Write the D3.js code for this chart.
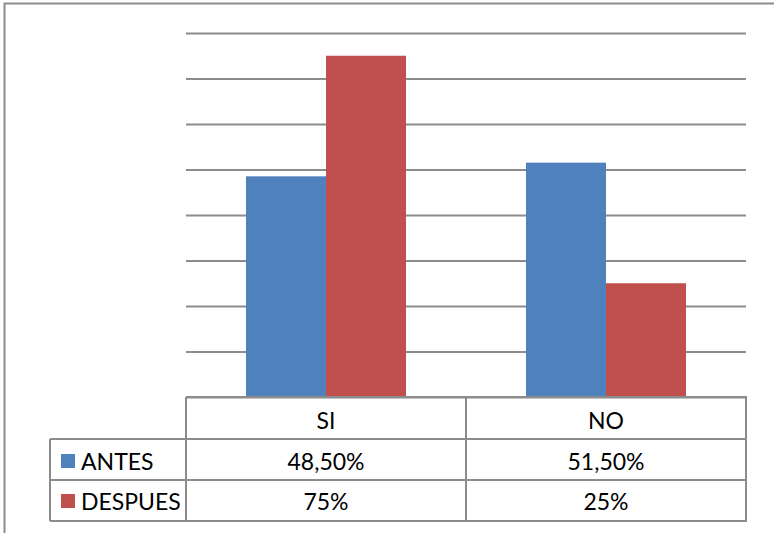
<!DOCTYPE html>
<html>
<head>
<meta charset="utf-8">
<script src="https://cdn.jsdelivr.net/npm/d3@7"></script>
<style>
html,body{margin:0;padding:0;background:#fff;}
svg{display:block;}
text{font-family:Lato,"Open Sans",sans-serif;fill:#000;}
</style>
</head>
<body>
<svg id="chart" width="774" height="533"></svg>
<script>
const categories = ["SI", "NO"];
const seriesNames = ["ANTES", "DESPUES"];
const antes = [0.485, 0.515];
const despues = [0.75, 0.25];
const antesLabels = ["48,50%", "51,50%"];
const despuesLabels = ["75%", "25%"];
const seriesColors = ["#4F81BD", "#C0504D"];
const yTicks = [0, 0.1, 0.2, 0.3, 0.4, 0.5, 0.6, 0.7, 0.8];

const svg = d3.select("#chart");
const gridColor = "#8c8c8c";

// outer frame
svg.append("rect")
  .attr("x", 4.5).attr("y", 3.5)
  .attr("width", 800).attr("height", 600)
  .attr("fill", "none").attr("stroke", gridColor).attr("stroke-width", 2);

const plotLeft = 186, plotRight = 746, plotTop = 33, plotBottom = 397;
const x = d3.scaleBand().domain(categories).range([plotLeft, plotRight]).paddingInner(0).paddingOuter(0);
const xs = d3.scaleBand().domain(seriesNames).range([0, x.bandwidth()]).paddingInner(0).paddingOuter(0.75);
const y = d3.scaleLinear().domain([0, 0.8]).range([plotBottom, plotTop]);

// gridlines
const yAxis = d3.axisLeft(y).tickValues(yTicks).tickSize(-(plotRight - plotLeft)).tickFormat("");
const ga = svg.append("g").attr("transform", `translate(${plotLeft},0)`).call(yAxis);
ga.select(".domain").remove();
ga.selectAll(".tick line").attr("stroke", gridColor).attr("stroke-width", 2);

// bars
const data = categories.map((c, i) => ({cat: c, vals: [antes[i], despues[i]]}));
const groups = svg.append("g").selectAll("g").data(data).join("g")
  .attr("transform", d => `translate(${x(d.cat)},0)`);
groups.selectAll("rect").data(d => d.vals.map((v, j) => ({s: seriesNames[j], v, j})))
  .join("rect")
  .attr("x", d => xs(d.s))
  .attr("width", xs.bandwidth())
  .attr("y", d => y(d.v))
  .attr("height", d => y(0) - y(d.v))
  .attr("fill", d => seriesColors[d.j]);

// data table
const tableLeft = 50;
const rowTops = [397, 439, 480, 521];
const tg = svg.append("g");
const lineAttr = sel => sel.attr("stroke", "#8c8c8c").attr("stroke-width", 2).attr("fill", "none");
// horizontal lines
tg.append("line").attr("x1", plotLeft).attr("x2", plotRight + 1).attr("y1", rowTops[0]).attr("y2", rowTops[0]).call(lineAttr);
[1, 2, 3].forEach(r => {
  tg.append("line").attr("x1", tableLeft).attr("x2", plotRight + 1).attr("y1", rowTops[r]).attr("y2", rowTops[r]).call(lineAttr);
});
// vertical lines
tg.append("line").attr("x1", tableLeft).attr("x2", tableLeft).attr("y1", rowTops[1]).attr("y2", rowTops[3]).call(lineAttr);
const vx = [plotLeft, ...categories.map(c => x(c) + x.bandwidth())];
vx.forEach(v => {
  tg.append("line").attr("x1", v).attr("x2", v).attr("y1", rowTops[0]).attr("y2", rowTops[3]).call(lineAttr);
});

const fs = 23;
// header
categories.forEach(c => {
  tg.append("text").attr("x", x(c) + x.bandwidth() / 2).attr("y", 429)
    .attr("text-anchor", "middle").style("font-size", fs + "px").text(c);
});
const rowsLabels = [antesLabels, despuesLabels];
const baselines = [470, 510];
seriesNames.forEach((s, r) => {
  tg.append("rect").attr("x", 61).attr("y", baselines[r] - 16).attr("width", 14).attr("height", 14)
    .attr("fill", seriesColors[r]);
  tg.append("text").attr("x", 81).attr("y", baselines[r]).style("font-size", fs + "px").text(s);
  categories.forEach((c, i) => {
    tg.append("text").attr("x", x(c) + x.bandwidth() / 2).attr("y", baselines[r])
      .attr("text-anchor", "middle").style("font-size", fs + "px").text(rowsLabels[r][i]);
  });
});
</script>
</body>
</html>
